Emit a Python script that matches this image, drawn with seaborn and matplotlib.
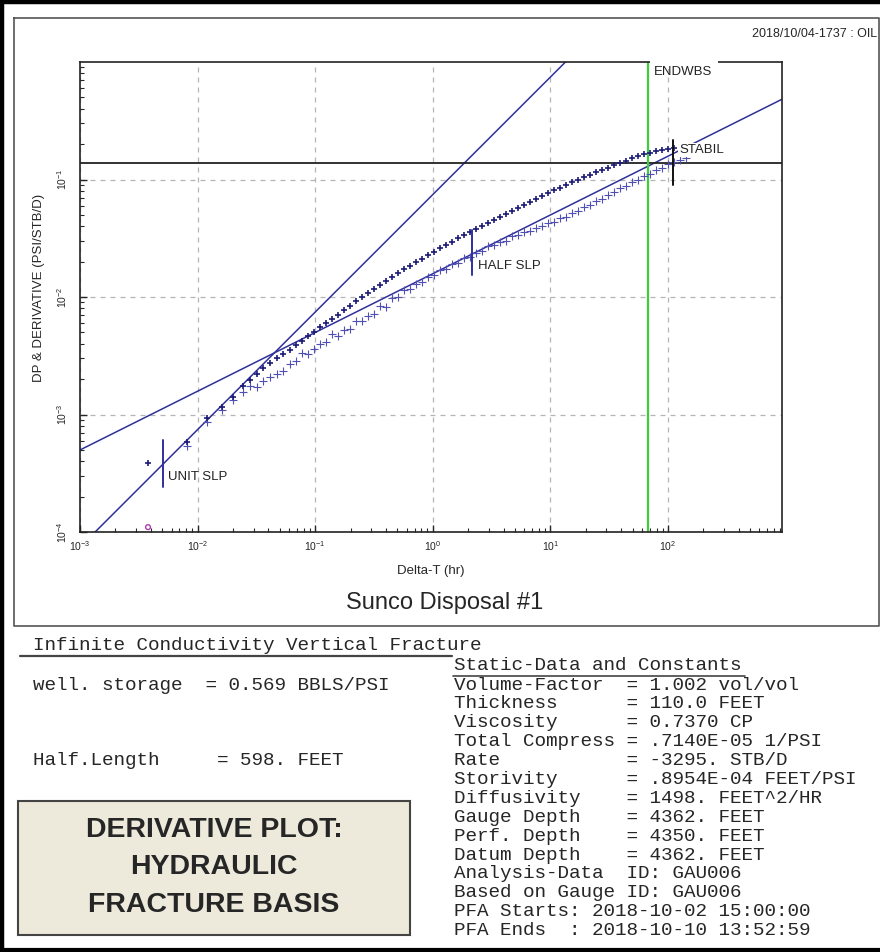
import matplotlib
matplotlib.use("Agg")
import matplotlib.pyplot as plt
import seaborn as sns
from matplotlib.patches import Rectangle
from matplotlib.lines import Line2D

# ===============================
# DATA
# ===============================
nan = float("nan")

delta_t = [0.00379, 0.00814, 0.01205, 0.01616, 0.02005, 0.02439, 0.02797, 0.03209, 0.03609,
           0.0414, 0.0475, 0.05342, 0.06126,
           0.0689, 0.0775, 0.0872, 0.0981, 0.1103, 0.1241, 0.1395, 0.1569, 0.1765, 0.1986,
           0.2233, 0.2512, 0.2825, 0.3178, 0.3574, 0.402, 0.4522, 0.5086, 0.5721, 0.6435,
           0.7238, 0.8141, 0.9156, 1.030, 1.158, 1.303, 1.466, 1.648, 1.854, 2.085, 2.345,
           2.638, 2.967, 3.337, 3.754, 4.222, 4.749, 5.341, 6.007, 6.757, 7.601, 8.551,
           9.616, 10.81, 12.16, 13.68, 15.39, 17.31, 19.47, 21.90, 24.63, 27.71, 31.16,
           35.05, 39.43, 44.36, 49.89, 56.11, 63.10, 70.98, 79.84, 89.80, 101.0, 113.6,
           127.8, 143.7]

dp = [0.000387, 0.000583, 0.000934, 0.00116, 0.00141, 0.00175, 0.00197, 0.00221, 0.00249,
      0.00274, 0.00303, 0.00327, 0.00354,
      0.00390, 0.00422, 0.00466, 0.00504, 0.00556, 0.00601, 0.00650, 0.00703, 0.00775,
      0.00838, 0.00925, 0.0100, 0.0108, 0.0117, 0.01265, 0.01368, 0.0148, 0.0160, 0.01731,
      0.01836, 0.01986, 0.02106, 0.02277, 0.02415, 0.02612, 0.02771, 0.02938, 0.03178,
      0.03371, 0.03574, 0.0379, 0.0402, 0.04264, 0.04522, 0.04797, 0.05086, 0.05394,
      0.0572, 0.06067, 0.06434, 0.06823, 0.07236, 0.07675, 0.08139, 0.08466, 0.08978,
      0.09522, 0.0990, 0.1050, 0.1092, 0.1158, 0.1205, 0.1253, 0.1328, 0.1382, 0.1437,
      0.1524, 0.1585, 0.1648, 0.1681, 0.1748, 0.1783, 0.1818, 0.1854,
      nan, nan]

deriv = [nan, 0.000539, 0.000864, 0.00109, 0.00133, 0.00155, 0.00175, 0.00171, 0.00193,
         0.00209, 0.00221, 0.00235, 0.00269,
         0.00285, 0.00334, 0.00327, 0.00361, 0.00398, 0.00414, 0.00484, 0.00466, 0.00524,
         0.00534, 0.00625, 0.00622, 0.00689, 0.00717, 0.00838, 0.00830, 0.00981, 0.0100,
         0.01147, 0.0117, 0.0129, 0.01342, 0.0148, 0.01539, 0.01697, 0.01731, 0.01909,
         0.01947, 0.02147, 0.0219, 0.02369, 0.02463, 0.02716, 0.02771, 0.02938, 0.02997,
         0.03304, 0.03371, 0.03574, 0.03645, 0.03866, 0.0402, 0.04264, 0.04347, 0.04702,
         0.04797, 0.05187, 0.05394, 0.05834, 0.06067, 0.06561, 0.06823, 0.07379, 0.07826,
         0.08466, 0.08805, 0.09522, 0.0990, 0.1071, 0.1114, 0.1205, 0.1253, 0.1355, 0.1409,
         0.1466, 0.1524]

stray_t = [0.00379]
stray_y = [0.000110]

unit_slope_c = 0.0744      # DP = c * t
half_slope_c = 0.01578     # DP = c * sqrt(t)
slope_t = [1e-3, 1e3]

stabil_level = 0.138
endwbs_t = 68.2

unit_mark = [0.00509, 2.42e-4, 6.07e-4]
half_mark = [2.17, 0.0154, 0.0372]
stabil_mark = [111.0, 0.0898, 0.217]

fracture_rows = ["well. storage  = 0.569 BBLS/PSI",
                 "",
                 "",
                 "",
                 "Half.Length     = 598. FEET"]
constant_rows = ["Volume-Factor  = 1.002 vol/vol",
                 "Thickness      = 110.0 FEET",
                 "Viscosity      = 0.7370 CP",
                 "Total Compress = .7140E-05 1/PSI",
                 "Rate           = -3295. STB/D",
                 "Storivity      = .8954E-04 FEET/PSI",
                 "Diffusivity    = 1498. FEET^2/HR",
                 "Gauge Depth    = 4362. FEET",
                 "Perf. Depth    = 4350. FEET",
                 "Datum Depth    = 4362. FEET",
                 "Analysis-Data  ID: GAU006",
                 "Based on Gauge ID: GAU006",
                 "PFA Starts: 2018-10-02 15:00:00",
                 "PFA Ends  : 2018-10-10 13:52:59"]
box_rows = ["DERIVATIVE PLOT:", "HYDRAULIC", "FRACTURE BASIS"]

# ===============================
# STYLE
# ===============================
sns.set_style("white")
plt.rcParams["font.family"] = ["Liberation Sans", "DejaVu Sans"]
plt.rcParams["mathtext.default"] = "regular"

W, H = 880, 952
def fx(px):
    return px / W
def fy(py):
    return 1 - py / H

navy = "#30309c"
mono = "Liberation Mono"

fig = plt.figure(figsize=(W / 100, H / 100), dpi=100)
ax = fig.add_axes([fx(80), fy(532), fx(782) - fx(80), fy(62) - fy(532)])
ax.set_xscale("log")
ax.set_yscale("log")

# slope guide lines
sns.lineplot(x=slope_t, y=[unit_slope_c * t for t in slope_t], ax=ax, color=navy,
             lw=1.1, estimator=None, sort=False, zorder=2)
sns.lineplot(x=slope_t, y=[half_slope_c * t ** 0.5 for t in slope_t], ax=ax, color=navy,
             lw=1.1, estimator=None, sort=False, zorder=2)
ax.axhline(stabil_level, color="#222222", lw=1.3, zorder=2)
ax.axvline(endwbs_t, color="#3ccc3c", lw=1.6, zorder=2)

# data
sns.scatterplot(x=delta_t, y=deriv, ax=ax, marker="+", s=34, color="#5050b4",
                linewidth=0.8, zorder=3)
sns.scatterplot(x=delta_t, y=dp, ax=ax, marker="+", s=16, color="#1c1c78",
                linewidth=1.2, zorder=4)
sns.scatterplot(x=stray_t, y=stray_y, ax=ax, marker="o", s=12, facecolor="none",
                edgecolor="#b03cb0", linewidth=1.0, zorder=4)

# slope markers
ax.plot([unit_mark[0]] * 2, unit_mark[1:], color=navy, lw=1.4, zorder=5)
ax.text(0.0056, 2.94e-4, "UNIT SLP", fontsize=9.5, color="#222222", va="center", zorder=6)
ax.plot([half_mark[0]] * 2, half_mark[1:], color=navy, lw=1.4, zorder=5)
ax.text(2.44, 0.0184, "HALF SLP", fontsize=9.5, color="#222222", va="center", zorder=6)
ax.plot([stabil_mark[0]] * 2, stabil_mark[1:], color="#111111", lw=1.4, zorder=5)
ax.text(124.0, 0.178, "STABIL", fontsize=9.5, color="#222222", va="center", zorder=6,
        bbox=dict(facecolor="white", edgecolor="none", pad=0.5))

# ENDWBS label breaking the top spine
ax.add_patch(Rectangle((0.8125, 0.985), 0.097, 0.03, transform=ax.transAxes,
                       facecolor="white", edgecolor="none", clip_on=False, zorder=6))
ax.text(0.8177, 0.992, "ENDWBS", transform=ax.transAxes, fontsize=9.5, color="#222222",
        va="top", ha="left", zorder=7)

ax.set_xlim(1e-3, 933)
ax.set_ylim(1e-4, 1)
ax.set_yticks([1e-4, 1e-3, 1e-2, 1e-1])
ax.grid(True, which="major", ls=(0, (4, 4)), color="#b5b5b5", lw=0.9)
ax.tick_params(which="both", direction="in", top=False, right=False, left=True, bottom=True)
ax.tick_params(which="major", length=5, width=1, labelsize=7.5, pad=5)
ax.tick_params(which="minor", length=3, width=0.8)
ax.tick_params(axis="y", labelrotation=90, pad=8)
for lab in ax.get_yticklabels():
    lab.set_va("center")
for sp in ax.spines.values():
    sp.set_color("#222222")
    sp.set_linewidth(1.2)

ax.set_xlabel("Delta-T (hr)", fontsize=9.5)
ax.xaxis.set_label_coords(0.5, -0.07)
ax.set_ylabel("DP & DERIVATIVE (PSI/STB/D)", fontsize=9.5)
ax.yaxis.set_label_coords(-0.05, 0.52)

# ===============================
# PAGE FURNITURE
# ===============================
fig.text(fx(877), fy(34), "2018/10/04-1737 : OIL", fontsize=9, ha="right", va="center")
fig.text(fx(445), fy(603), "Sunco Disposal #1", fontsize=17, ha="center", va="center")

# frames
fig.add_artist(Line2D([fx(2), fx(2)], [0, 1], color="black", lw=3.2))
fig.add_artist(Line2D([0, 1], [fy(2), fy(2)], color="black", lw=3.2))
fig.add_artist(Line2D([0, 1], [fy(950), fy(950)], color="black", lw=3.0))
fig.add_artist(Line2D([fx(14), fx(14), fx(879), fx(879), fx(14)],
                      [fy(18), fy(626), fy(626), fy(18), fy(18)], color="#555555", lw=1.2))

# result text
fig.text(fx(33), fy(646), "Infinite Conductivity Vertical Fracture", family=mono,
         fontsize=13.9, va="center")
fig.add_artist(Line2D([fx(20), fx(452)], [fy(656), fy(656)], color="#444444", lw=1.6))
for i, row in enumerate(fracture_rows):
    fig.text(fx(33), fy(686 + i * 18.6), row, family=mono, fontsize=13.9, va="center")

fig.text(fx(454), fy(665), "Static-Data and Constants", family=mono, fontsize=13.9,
         va="center")
fig.add_artist(Line2D([fx(453), fx(745)], [fy(676), fy(676)], color="#444444", lw=1.2))
for i, row in enumerate(constant_rows):
    fig.text(fx(454), fy(685 + i * 18.9), row, family=mono, fontsize=13.9, va="center")

# title box
fig.add_artist(Rectangle((fx(18), fy(935)), fx(410) - fx(18), fy(801) - fy(935),
                         transform=fig.transFigure, facecolor="#edeadb",
                         edgecolor="#444444", lw=1.5))
for row, py in zip(box_rows, [830, 867, 905]):
    fig.text(fx(214), fy(py), row, fontsize=20.5, fontweight="bold", ha="center",
             va="center")

fig.savefig("out.png", dpi=100)
